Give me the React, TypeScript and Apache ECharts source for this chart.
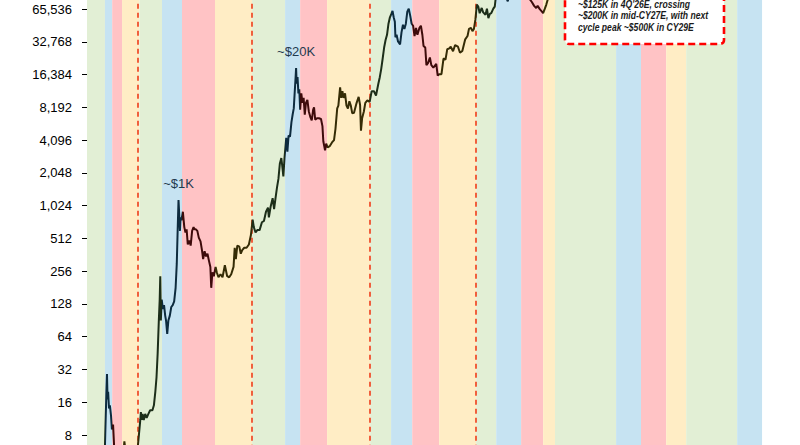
import React, { useEffect, useRef } from "react";
import * as echarts from "echarts";

// Price history (decimal year, USD)
const priceDates = [
  2010.74, 2010.85, 2010.95, 2011.08, 2011.15, 2011.25, 2011.3, 2011.34, 2011.37, 2011.41, 2011.43, 2011.45, 2011.47, 2011.5, 2011.53, 2011.57, 2011.6, 2011.64, 2011.68, 2011.72, 2011.8, 2011.88, 2011.95,
  2012.0, 2012.03, 2012.08, 2012.15, 2012.3, 2012.45, 2012.5, 2012.55, 2012.58, 2012.6, 2012.63, 2012.66, 2012.7, 2012.75, 2012.8, 2012.86, 2012.92,
  2013.0, 2013.05, 2013.1, 2013.14, 2013.18, 2013.22, 2013.25, 2013.27, 2013.29, 2013.32, 2013.36, 2013.4, 2013.44, 2013.47, 2013.51, 2013.55, 2013.6, 2013.65, 2013.7, 2013.75, 2013.8, 2013.84, 2013.87, 2013.9, 2013.92, 2013.95, 2013.97,
  2014.0, 2014.05, 2014.1, 2014.14, 2014.18, 2014.22, 2014.27, 2014.32, 2014.37, 2014.42, 2014.45, 2014.5, 2014.55, 2014.6, 2014.66, 2014.71, 2014.75, 2014.8, 2014.85, 2014.9, 2014.95,
  2015.0, 2015.03, 2015.07, 2015.12, 2015.18, 2015.22, 2015.28, 2015.35, 2015.42, 2015.5, 2015.58, 2015.65, 2015.72, 2015.8, 2015.84, 2015.88, 2015.93,
  2016.0, 2016.05, 2016.1, 2016.17, 2016.25, 2016.33, 2016.4, 2016.46, 2016.5, 2016.56, 2016.62, 2016.7, 2016.78, 2016.85, 2016.92, 2016.99,
  2017.02, 2017.08, 2017.15, 2017.2, 2017.25, 2017.3, 2017.35, 2017.4, 2017.45, 2017.48, 2017.52, 2017.56, 2017.62, 2017.66, 2017.7, 2017.75, 2017.8, 2017.84, 2017.88, 2017.91, 2017.94, 2017.96, 2017.98,
  2018.01, 2018.04, 2018.07, 2018.1, 2018.14, 2018.18, 2018.22, 2018.26, 2018.3, 2018.35, 2018.4, 2018.45, 2018.5, 2018.55, 2018.58, 2018.62, 2018.68, 2018.75, 2018.82, 2018.87, 2018.9, 2018.96,
  2019.0, 2019.05, 2019.12, 2019.2, 2019.27, 2019.32, 2019.38, 2019.42, 2019.48, 2019.52, 2019.56, 2019.6, 2019.65, 2019.7, 2019.75, 2019.8, 2019.85, 2019.9, 2019.96,
  2020.05, 2020.12, 2020.17, 2020.2, 2020.24, 2020.3, 2020.35, 2020.42, 2020.5, 2020.57, 2020.65, 2020.72, 2020.8, 2020.85, 2020.9, 2020.95,
  2021.0, 2021.05, 2021.1, 2021.15, 2021.2, 2021.25, 2021.29, 2021.33, 2021.37, 2021.39, 2021.43, 2021.48, 2021.55, 2021.6, 2021.65, 2021.7, 2021.75, 2021.8, 2021.85, 2021.9, 2021.95,
  2022.0, 2022.05, 2022.1, 2022.15, 2022.22, 2022.27, 2022.32, 2022.36, 2022.42, 2022.46, 2022.52, 2022.58, 2022.63, 2022.7, 2022.8, 2022.85, 2022.9, 2022.98,
  2023.05, 2023.12, 2023.18, 2023.25, 2023.3, 2023.38, 2023.45, 2023.55, 2023.62, 2023.7, 2023.8, 2023.88, 2023.93,
  2024.0, 2024.05, 2024.1, 2024.15, 2024.18, 2024.2, 2024.25, 2024.3, 2024.37, 2024.42, 2024.5, 2024.55, 2024.6, 2024.65, 2024.7, 2024.77, 2024.82, 2024.87, 2024.93,
  2025.0, 2025.08, 2025.15, 2025.22, 2025.27, 2025.33, 2025.4, 2025.5, 2025.55, 2025.65, 2025.75, 2025.8, 2025.88, 2025.95,
  2026.04, 2026.1, 2026.18, 2026.25, 2026.3, 2026.38, 2026.45, 2026.49, 2026.55, 2026.6, 2026.66, 2026.85, 2027.5,
];
const priceValues = [
  0.06, 0.2, 0.3, 0.4, 0.9, 0.8, 1.8, 4, 8, 20, 29, 17, 20, 14, 15, 12, 9, 10, 6, 5, 3, 2.3, 3,
  5.5, 7, 5.5, 4.9, 5, 5.5, 6.5, 9, 11, 13, 11, 12.5, 11, 12.5, 11.5, 12.5, 13.5,
  13.5, 15, 20, 27, 45, 90, 140, 230, 90, 140, 115, 125, 100, 90, 68, 90, 100, 120, 125, 135, 180, 300, 600, 1150, 900, 600, 800,
  750, 900, 650, 580, 620, 450, 490, 440, 600, 650, 620, 620, 600, 520, 480, 400, 330, 390, 350, 370, 320,
  280, 180, 250, 230, 280, 250, 225, 240, 225, 290, 230, 225, 240, 280, 420, 330, 440,
  430, 370, 400, 420, 420, 450, 550, 760, 650, 580, 610, 610, 720, 740, 900, 980,
  800, 1000, 1200, 950, 1200, 1500, 1800, 2500, 2800, 2400, 1900, 2800, 4300, 3200, 4500, 4400, 6000, 7000, 8000, 11000, 15000, 18800, 13500,
  15500, 11000, 12000, 7800, 11000, 9000, 10000, 7000, 9000, 9600, 7500, 6700, 6200, 7800, 8200, 6300, 6500, 6500, 6400, 5500, 4000, 3300,
  3800, 3500, 3600, 3900, 4100, 5200, 8000, 8500, 12500, 10000, 11500, 10000, 11000, 8500, 8000, 9300, 8500, 7200, 7300,
  9000, 10200, 8600, 5000, 6500, 7500, 9000, 9500, 9200, 11500, 11500, 10500, 13500, 15500, 18500, 23000,
  29000, 34000, 38000, 48000, 55000, 59000, 63000, 55000, 50000, 36000, 38000, 33000, 31000, 40000, 47000, 43000, 48000, 62000, 66000, 57000, 48000,
  46000, 37000, 44000, 38000, 44000, 46000, 38000, 30000, 29000, 20000, 21000, 23500, 20000, 19000, 20500, 16000, 16500, 16500,
  23000, 22500, 28000, 28500, 29500, 26800, 30500, 29500, 26000, 27000, 34500, 37000, 43000,
  44000, 41000, 43000, 52000, 63000, 72000, 69000, 60000, 67000, 61000, 58000, 66000, 54000, 59000, 60000, 66000, 69000, 90000, 100000,
  97000, 104000, 95000, 83000, 77000, 94000, 104000, 108000, 118000, 115000, 124000, 110000, 90000, 88000,
  80000, 76000, 70000, 67000, 70000, 65000, 62000, 60000, 66000, 72000, 82000, 125000, 200000,
];

// Cycle phase bands
const bandStarts = [
  2010.74, 2011.36, 2011.61, 2011.95, 2012.55, 2013.33, 2014.02, 2015.16, 2016.44, 2017.58, 2018.1, 2019.03, 2020.52,
  2021.24, 2021.97, 2022.9, 2024.18, 2024.87, 2025.73, 2026.49, 2026.9, 2029.01, 2029.87, 2030.74, 2031.43, 2033.19,
];
const bandEnds = [
  2011.36, 2011.61, 2011.95, 2012.55, 2013.33, 2014.02, 2015.16, 2016.44, 2017.58, 2018.1, 2019.03, 2020.52, 2021.24,
  2021.97, 2022.9, 2024.18, 2024.87, 2025.73, 2026.49, 2026.9, 2029.01, 2029.87, 2030.74, 2031.43, 2033.19, 2034.05,
];
const bandPhases = [
  "accumulation", "bull", "bear", "recovery", "accumulation", "bull", "bear", "recovery", "accumulation", "bull", "bear", "recovery", "accumulation",
  "bull", "bear", "recovery", "accumulation", "bull", "bear", "recovery", "accumulation", "bull", "bear", "recovery", "accumulation", "bull",
];

// Halving-cycle markers (decimal year)
const cycleMarkers = [2012.5, 2016.44, 2020.52, 2024.18];

// Peak annotations
const peakLabels = ["~$1K", "~$20K"];
const peakDates = [2013.9, 2017.96];
const peakPrices = [1150, 18800];

// Y tick range (powers of two)
const yMinExp = 2;
const yMaxExp = 17;

const noteLines = [
  "~$125K in 4Q'26E, crossing",
  "~$200K in mid-CY27E, with next",
  "cycle peak ~$500K in CY29E",
];

const bandColors: Record<string, string> = {
  accumulation: "#E2EFD5",
  bull: "#C6E3F2",
  bear: "#FFC3C5",
  recovery: "#FFEDC5",
};
const lineColors: Record<string, string> = {
  accumulation: "#1c2e19",
  bull: "#0d2b3e",
  bear: "#3e0b0b",
  recovery: "#352c06",
};

// The chart canvas extends beyond the visible window (the picture is a crop)
const OFFSET_Y = 24;
const CANVAS_H = 492;

export default function App() {
  const ref = useRef<HTMLDivElement>(null);
  useEffect(() => {
    if (!ref.current) return;
    const chart = echarts.init(ref.current, null, { renderer: "svg" });
    const seriesData = priceDates.map((d, i) => [d, Math.log2(priceValues[i])]);
    const pieces = bandStarts.map((s, i) => ({
      gte: s,
      lt: bandEnds[i],
      color: lineColors[bandPhases[i]],
    }));
    const option: any = {
      animation: false,
      grid: {
        left: 87,
        right: 0,
        top: 0.23,
        height: 491.55,
        containLabel: false,
        outerBoundsMode: "none",
      },
      xAxis: {
        type: "value",
        min: 2010.74,
        max: 2010.74 + 713 / 28.96,
        show: false,
      },
      yAxis: {
        type: "value",
        min: yMinExp,
        max: yMaxExp,
        interval: 1,
        axisLine: { show: true, lineStyle: { color: "#000", width: 1 } },
        axisTick: { show: true, length: 5, lineStyle: { color: "#000" } },
        splitLine: { show: false },
        axisLabel: {
          margin: 15,
          fontSize: 13,
          color: "#000",
          fontFamily: "Arial, 'Liberation Sans', sans-serif",
          formatter: (v: number) =>
            v <= yMinExp || v >= yMaxExp ? "" : Math.round(Math.pow(2, v)).toLocaleString("en-US"),
        },
      },
      visualMap: {
        show: false,
        type: "piecewise",
        seriesIndex: 0,
        dimension: 0,
        pieces,
        outOfRange: { color: "#1c2e19" },
      },
      series: [
        {
          name: "price",
          type: "line",
          data: seriesData,
          showSymbol: false,
          symbol: "none",
          z: 5,
          lineStyle: { width: 2 },
          clip: true,
          markPoint: {
            symbol: "circle",
            symbolSize: 1,
            itemStyle: { color: "rgba(0,0,0,0)" },
            label: {
              show: true,
              position: "top",
              distance: 10,
              fontSize: 13,
              color: "#1f3a4e",
              fontFamily: "Arial, 'Liberation Sans', sans-serif",
              formatter: (p: any) => p.name,
            },
            data: peakLabels.map((n, i) => ({
              name: n,
              coord: [peakDates[i], Math.log2(peakPrices[i])],
            })),
          },
        },
        {
          name: "bands",
          type: "line",
          data: [],
          z: 1,
          silent: true,
          markArea: {
            silent: true,
            data: bandStarts.map((s, i) => [
              { xAxis: s, itemStyle: { color: bandColors[bandPhases[i]] } },
              { xAxis: bandEnds[i] },
            ]),
          },
          markLine: {
            silent: true,
            symbol: "none",
            label: { show: false },
            lineStyle: { color: "#f0502e", type: [5, 4], width: 1.8 },
            data: cycleMarkers.map((d) => ({ xAxis: d })),
          },
        },
      ],
      graphic: [
        {
          type: "rect",
          x: 565,
          y: OFFSET_Y - 40,
          shape: { width: 159, height: 84, r: 4 },
          style: { fill: "#fff", stroke: "#ff0000", lineWidth: 2.6, lineDash: [7, 4] },
          z: 100,
        },
        ...noteLines.map((t, i) => ({
          type: "text",
          x: 578,
          y: OFFSET_Y + 4.5 + i * 11.5,
          scaleX: 0.86,
          z: 101,
          style: {
            text: t,
            fill: "#1a1a1a",
            font: "italic bold 10px Arial, 'Liberation Sans', sans-serif",
            verticalAlign: "middle",
            align: "left",
          },
        })),
      ],
    };
    chart.setOption(option);
    return () => chart.dispose();
  }, []);
  return (
    <div
      ref={ref}
      style={{ position: "fixed", left: 0, top: -OFFSET_Y, width: 800, height: CANVAS_H, background: "#fff" }}
    />
  );
}
